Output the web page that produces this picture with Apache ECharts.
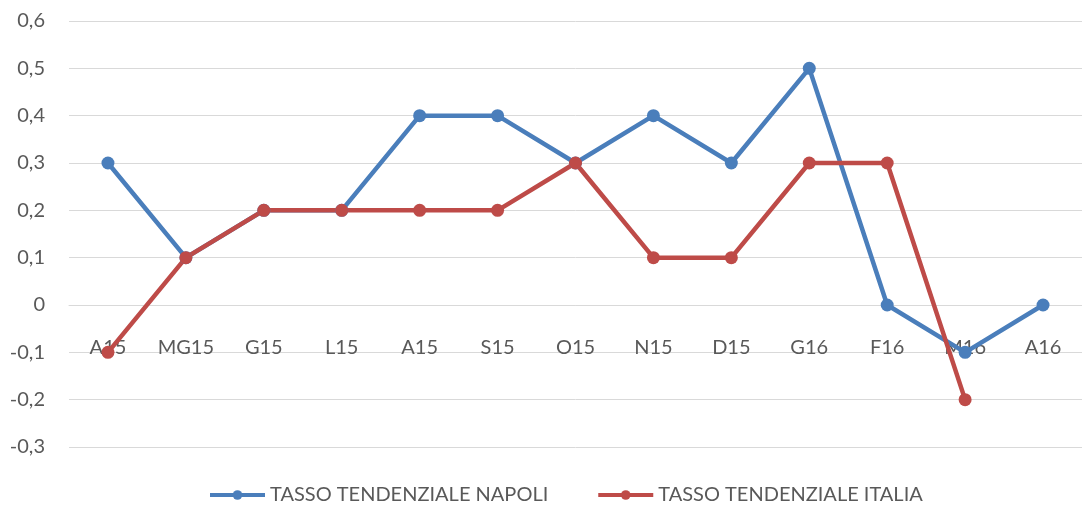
<!DOCTYPE html>
<html>
<head>
<meta charset="utf-8">
<script src="https://cdn.jsdelivr.net/npm/echarts@6/dist/echarts.min.js"></script>
<style>
	html, body { margin: 0; padding: 0; background: #fff; }
	#chart { width: 1082px; height: 513px; }
</style>
</head>
<body>
<div id="chart"></div>
<script>
// categorie (mesi)
var mesi = ["A15", "MG15", "G15", "L15", "A15", "S15", "O15", "N15", "D15", "G16", "F16", "M16", "A16"];
// tasso tendenziale Napoli
var napoli = [0.3, 0.1, 0.2, 0.2, 0.4, 0.4, 0.3, 0.4, 0.3, 0.5, 0, -0.1, 0];
// tasso tendenziale Italia
var italia = [-0.1, 0.1, 0.2, 0.2, 0.2, 0.2, 0.3, 0.1, 0.1, 0.3, 0.3, -0.2, null];

var nomi = ["TASSO TENDENZIALE NAPOLI", "TASSO TENDENZIALE ITALIA"];
var colori = ["#4A7EBB", "#BE4B48"];
var font = "Lato";

function virgola(v) {
	return String(Math.round(v * 10) / 10).replace(".", ",");
}

var myChart = echarts.init(document.getElementById("chart"));
var option = {
	animation: false,
	textStyle: { fontFamily: font },
	grid: { left: 69, top: 21, width: 1017, bottom: 66 },
	legend: {
		top: 480,
		left: 203,
		itemWidth: 55,
		itemHeight: 12,
		itemGap: 48,
		lineStyle: { width: 4 },
		textStyle: { color: "#595959", fontSize: 20, fontFamily: font },
		data: nomi
	},
	xAxis: {
		type: "category",
		data: mesi,
		boundaryGap: true,
		position: "bottom",
		// asse delle categorie sullo zero (0,3 sopra il fondo)
		offset: -142,
		axisLine: { show: true, onZero: false, lineStyle: { color: "#D9D9D9", width: 1 } },
		axisTick: { show: false },
		axisLabel: { color: "#595959", fontSize: 20, margin: 33 }
	},
	yAxis: {
		type: "value",
		min: -0.3,
		max: 0.6,
		interval: 0.1,
		axisLine: { show: false },
		axisTick: { show: false },
		axisLabel: { color: "#595959", fontSize: 20, margin: 24, formatter: virgola },
		splitLine: { lineStyle: { color: "#D9D9D9", width: 1 } }
	},
	series: [
		{
			name: nomi[0],
			type: "line",
			data: napoli,
			color: colori[0],
			symbol: "circle",
			symbolSize: 13,
			lineStyle: { width: 4.5 }
		},
		{
			name: nomi[1],
			type: "line",
			data: italia,
			color: colori[1],
			symbol: "circle",
			symbolSize: 13,
			lineStyle: { width: 4.5 }
		}
	]
};
myChart.setOption(option, true);
</script>
</body>
</html>
